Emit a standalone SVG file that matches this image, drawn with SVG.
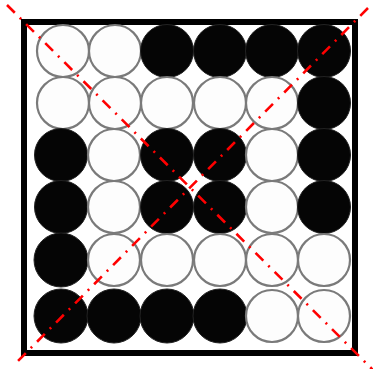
<svg xmlns="http://www.w3.org/2000/svg" width="373" height="369" viewBox="0 0 373 369">
<style>
.w{fill:#fdfdfd;stroke:#7a7a7a;stroke-width:2.2}
.b{fill:#050505;stroke:#222;stroke-width:1}
.frame{fill:none;stroke:#000;stroke-width:6}
.diag{stroke:#f00;stroke-width:2.6;stroke-dasharray:11 7 2 7;fill:none}
</style>
<rect width="373" height="369" fill="#fff"/>
<g id="board">
<rect class="frame" x="24" y="22" width="331" height="331"/>
</g>
<g id="stones">
<g id="r1"><circle class="w" cx="63" cy="51" r="26"/><circle class="w" cx="115" cy="51" r="26"/><circle class="b" cx="167" cy="51" r="26.5"/><circle class="b" cx="220" cy="51" r="26.5"/><circle class="b" cx="272" cy="51" r="26.5"/><circle class="b" cx="324" cy="51" r="26.5"/></g>
<g id="r2"><circle class="w" cx="63" cy="103" r="26"/><circle class="w" cx="115" cy="103" r="26"/><circle class="w" cx="167" cy="103" r="26"/><circle class="w" cx="220" cy="103" r="26"/><circle class="w" cx="272" cy="103" r="26"/><circle class="b" cx="324" cy="103" r="26.5"/></g>
<g id="r3"><circle class="b" cx="61" cy="155" r="26.5"/><circle class="w" cx="114" cy="155" r="26"/><circle class="b" cx="167" cy="155" r="26.5"/><circle class="b" cx="220" cy="155" r="26.5"/><circle class="w" cx="272" cy="155" r="26"/><circle class="b" cx="324" cy="155" r="26.5"/></g>
<g id="r4"><circle class="b" cx="61" cy="207" r="26.5"/><circle class="w" cx="114" cy="207" r="26"/><circle class="b" cx="167" cy="207" r="26.5"/><circle class="b" cx="220" cy="207" r="26.5"/><circle class="w" cx="272" cy="207" r="26"/><circle class="b" cx="324" cy="207" r="26.5"/></g>
<g id="r5"><circle class="b" cx="61" cy="260" r="27"/><circle class="w" cx="114" cy="260" r="26"/><circle class="w" cx="167" cy="260" r="26"/><circle class="w" cx="220" cy="260" r="26"/><circle class="w" cx="272" cy="260" r="26"/><circle class="w" cx="324" cy="260" r="26"/></g>
<g id="r6"><circle class="b" cx="61" cy="316" r="27"/><circle class="b" cx="114" cy="316" r="27"/><circle class="b" cx="167" cy="316" r="27"/><circle class="b" cx="220" cy="316" r="27"/><circle class="w" cx="272" cy="316" r="26"/><circle class="w" cx="324" cy="316" r="26"/></g>
</g>
<g id="connectors">
<line class="diag" x1="7" y1="5" x2="373" y2="370"/>
<line class="diag" x1="368" y1="8" x2="14" y2="365"/>
</g>
</svg>
